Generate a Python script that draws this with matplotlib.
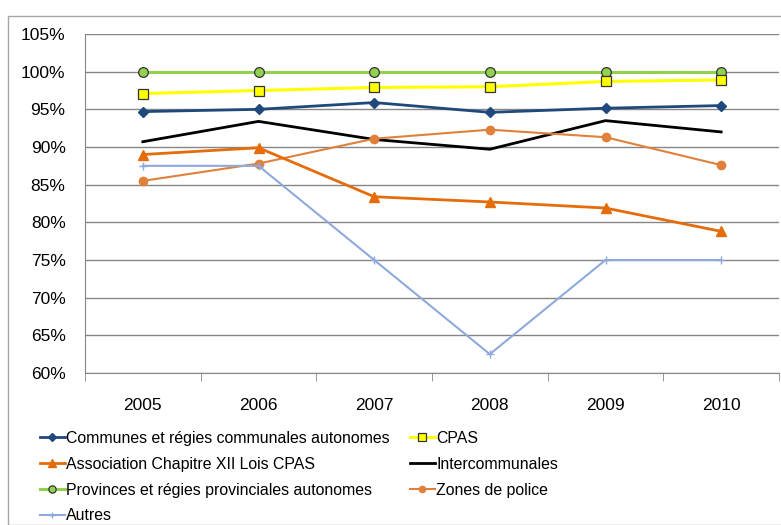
import matplotlib.pyplot as plt
from matplotlib.patches import Rectangle
from matplotlib.ticker import FuncFormatter, FixedLocator

plt.rcParams['font.family'] = ['Liberation Sans', 'DejaVu Sans']

# Data
years = ['2005', '2006', '2007', '2008', '2009', '2010']
communes = [94.7, 95.0, 95.9, 94.6, 95.15, 95.5]
cpas = [97.1, 97.5, 97.9, 98.0, 98.7, 98.9]
association = [89.0, 89.9, 83.4, 82.7, 81.9, 78.8]
intercommunales = [90.7, 93.4, 91.0, 89.7, 93.5, 92.0]
provinces = [100, 100, 100, 100, 100, 100]
zones_police = [85.5, 87.8, 91.1, 92.3, 91.3, 87.6]
autres = [87.5, 87.5, 75.0, 62.5, 75.0, 75.0]

fig = plt.figure(figsize=(7.81, 5.25), dpi=100)
fig.patches.append(Rectangle((8 / 781, 0), 1, 1 - 16 / 525, transform=fig.transFigure,
                             fill=False, edgecolor='#a6a6a6', linewidth=1))
ax = fig.add_axes([85 / 781, 1 - 373 / 525, (779 - 85) / 781, (373 - 34) / 525])

x = range(len(years))

ax.plot(x, provinces, color='#92d050', lw=2.2, marker='o', ms=7,
        mfc='#92d050', mec='#333333', mew=0.9, label='Provinces et régies provinciales autonomes', zorder=3)
ax.plot(x, cpas, color='#ffff00', lw=2.2, marker='s', ms=7,
        mfc='#ffff00', mec='#333333', mew=0.9, label='CPAS', zorder=3)
ax.plot(x, communes, color='#1f497d', lw=2.0, marker='D', ms=5.5,
        label='Communes et régies communales autonomes', zorder=3)
ax.plot(x, intercommunales, color='black', lw=2.0, label='Intercommunales', zorder=3)
ax.plot(x, zones_police, color='#e0803a', lw=1.5, marker='o', ms=6,
        label='Zones de police', zorder=3)
ax.plot(x, association, color='#e46c0a', lw=2.0, marker='^', ms=7,
        label='Association Chapitre XII Lois CPAS', zorder=3)
ax.plot(x, autres, color='#8ea9db', lw=1.5, marker='+', ms=6, mew=1,
        label='Autres', zorder=3)

ax.set_xlim(-0.5, 5.5)
ax.set_ylim(60, 105)
ax.set_yticks(range(60, 106, 5))
ax.yaxis.set_major_formatter(FuncFormatter(lambda v, p: f'{int(v)}%'))
ax.set_xticks(list(x))
ax.set_xticklabels(years)
ax.xaxis.set_minor_locator(FixedLocator([i - 0.5 for i in range(7)]))
ax.tick_params(axis='x', which='major', length=0, pad=18, labelsize=12.5)
ax.tick_params(axis='x', which='minor', length=6, color='#868686')
ax.tick_params(axis='y', length=0, pad=14, labelsize=12.5)
ax.grid(axis='y', color='#868686', lw=1)
ax.set_axisbelow(True)
for s in ['top', 'right']:
    ax.spines[s].set_visible(False)
for s in ['left', 'bottom']:
    ax.spines[s].set_color('#868686')

handles = {h.get_label(): h for h in ax.get_lines()}
col1 = ['Communes et régies communales autonomes', 'Association Chapitre XII Lois CPAS',
        'Provinces et régies provinciales autonomes', 'Autres']
col2 = ['CPAS', 'Intercommunales', 'Zones de police']
leg_kw = dict(loc='upper left', frameon=False, fontsize=11.4, handlelength=1.55,
              handletextpad=0.1, labelspacing=0.68, borderpad=0, borderaxespad=0,
              markerscale=0.75)
leg1 = fig.legend([handles[k] for k in col1], col1,
                  bbox_to_anchor=(40 / 781, 1 - 431 / 525), **leg_kw)
leg2 = fig.legend([handles[k] for k in col2], col2,
                  bbox_to_anchor=(410 / 781, 1 - 431 / 525), **leg_kw)

fig.savefig('out.png', dpi=100)
